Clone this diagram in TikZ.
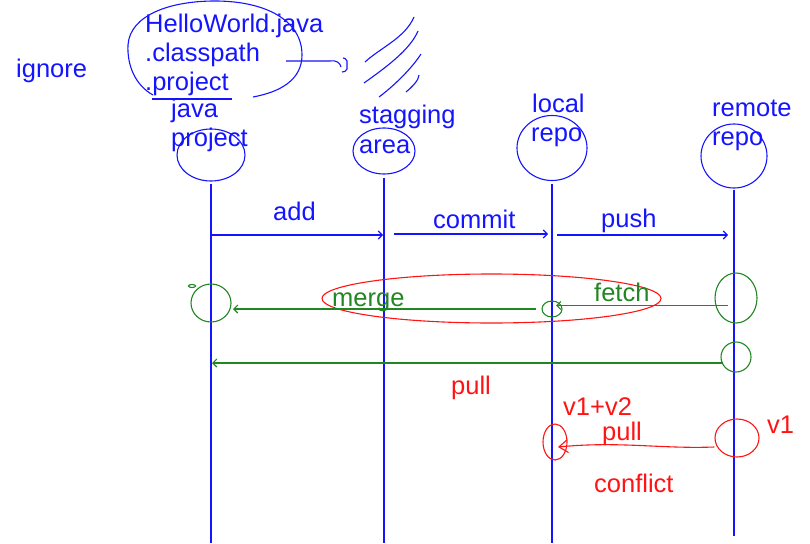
\documentclass[tikz,border=0pt]{standalone}
\usepackage{fontspec}
\setmainfont{Liberation Sans}
\usetikzlibrary{arrows.meta,shapes.geometric}
\definecolor{penblue}{RGB}{20,20,255}
\definecolor{pengreen}{RGB}{34,134,34}
\definecolor{penred}{RGB}{255,20,20}
\tikzset{
  sketchtext/.style={
    anchor=base west,
    inner sep=0pt,
    font=\fontsize{25.5}{30}\selectfont
  },
  headring/.style={
    ellipse,
    draw=penblue,
    line width=1.1pt,
    inner sep=0pt
  },
  greenring/.style={ellipse, draw=pengreen, line width=1.1pt, inner sep=0pt},
  redring/.style={ellipse, draw=penred, line width=1.1pt, inner sep=0pt},
  lifeline/.style={draw=penblue, line width=1.1pt},
  sketcharrow/.style={
    -{Straight Barb[length=4pt,width=8pt]},
    line width=1.1pt
  }
}

\begin{document}
\begin{tikzpicture}[x=1pt,y=-1pt]
\useasboundingbox (0,0) rectangle (810,543);

% labels of the four places
\node[sketchtext, text=penblue] (ignore) at (16,77) {ignore};
\node[sketchtext, text=penblue] (hello) at (145,33) {HelloWorld.java};
\node[sketchtext, text=penblue] (classpath) at (145,62) {.classpath};
\node[sketchtext, text=penblue] (dotproject) at (145,90) {.project};
\node[sketchtext, text=penblue] (javaword) at (171,117) {java};
\node[sketchtext, text=penblue] (projectword) at (171,146) {project};
\node[sketchtext, text=penblue] (stagword) at (359,123) {stagging};
\node[sketchtext, text=penblue] (areaword) at (359,153) {area};
\node[sketchtext, text=penblue] (localword) at (532,112) {local};
\node[sketchtext, text=penblue] (localrepoword) at (531,141) {repo};
\node[sketchtext, text=penblue] (remoteword) at (712,116) {remote};
\node[sketchtext, text=penblue] (remoterepoword) at (712,145) {repo};

\node[headring, minimum width=68pt, minimum height=52pt] (javahead) at (211,155) {};
\node[headring, minimum width=62pt, minimum height=46pt] (staghead) at (384,151) {};
\node[headring, minimum width=70pt, minimum height=65pt] (localhead) at (552,148) {};
\node[headring, minimum width=66pt, minimum height=64pt] (remotehead) at (734,156) {};

\coordinate (javaend) at (211,543);
\coordinate (stagend) at (384,543);
\coordinate (localend) at (552,543);
\coordinate (remoteend) at (734,536);

\draw[lifeline] ([yshift=-2pt]javahead.south) -- (javaend);
\draw[lifeline] ([yshift=-3pt]staghead.south) -- (stagend);
\draw[lifeline] ([yshift=-3pt]localhead.south) -- (localend);
\draw[lifeline] ([yshift=-1pt]remotehead.south) -- (remoteend);

% ignore scribbles
\draw[penblue, line width=1.1pt] (153,95) .. controls (135,85) and (127,65) .. (128,45)
  .. controls (130,15) and (170,1) .. (215,1) .. controls (265,1) and (302,20) .. (302,55)
  .. controls (302,80) and (280,92) .. (253,97);
\draw[penblue, line width=1.1pt] (152,99) -- (232,99);
\draw[penblue, line width=1.1pt] (286,61) -- (330,61) .. controls (337,60) and (340,63) .. (341,67);
\draw[penblue, line width=1.1pt, rounded corners=2pt] (343,58) -- (347,59) -- (347,71) -- (342,72);
\draw[penblue, line width=1.1pt] (365,62) .. controls (380,48) and (405,38) .. (414,17);
\draw[penblue, line width=1.1pt] (364,83) .. controls (385,68) and (410,50) .. (418,31);
\draw[penblue, line width=1.1pt] (379,97) .. controls (395,85) and (412,68) .. (421,54);
\draw[penblue, line width=1.1pt] (406,92) .. controls (412,87) and (419,80) .. (419,75);

% add, commit, push
\coordinate (addfrom) at (212,235);
\coordinate (addto) at (383,235);
\coordinate (commitfrom) at (394,234);
\coordinate (committo) at (548,234);
\coordinate (pushfrom) at (557,235);
\coordinate (pushto) at (728,235);
\draw[sketcharrow, penblue] (addfrom) -- (addto);
\draw[sketcharrow, penblue] (commitfrom) -- (committo);
\draw[sketcharrow, penblue] (pushfrom) -- (pushto);
\node[sketchtext, text=penblue] (addword) at (273,220) {add};
\node[sketchtext, text=penblue] (commitword) at (433,228) {commit};
\node[sketchtext, text=penblue] (pushword) at (601,227) {push};

% fetch + merge
\node[redring, minimum width=339pt, minimum height=49pt] (mergeloop) at (491.5,298.5) {};
\node[greenring, minimum width=40pt, minimum height=38pt] (mergering) at (211,303) {};
\node[greenring, minimum width=7pt, minimum height=3pt] (tickmark) at (192,286) {};
\node[greenring, minimum width=20pt, minimum height=16pt] (fetchring) at (552,309) {};
\node[greenring, minimum width=42pt, minimum height=50pt] (originring) at (736,298) {};
\node[greenring, minimum width=30pt, minimum height=30pt] (pullring) at (736,357) {};
\coordinate (mergefrom) at (536,309);
\coordinate (mergeto) at (233,309);
\coordinate (fetchfrom) at (728,305.5);
\coordinate (fetchto) at (556,305.5);
\coordinate (pullfrom) at (723,363);
\coordinate (pullto) at (212,363);
\draw[sketcharrow, pengreen] (mergefrom) -- (mergeto);
\draw[sketcharrow, pengreen] (fetchfrom) -- (fetchto);
\draw[sketcharrow, pengreen] (pullfrom) -- (pullto);
\node[sketchtext, text=pengreen] (mergeword) at (332,306) {merge};
\node[sketchtext, text=pengreen] (fetchword) at (594,301) {fetch};
\node[sketchtext, text=penred] (pullword) at (451,394) {pull};

% conflict
\node[redring, minimum width=24pt, minimum height=36pt] (conflictring) at (555,442) {};
\node[redring, minimum width=44pt, minimum height=38pt] (versionring) at (737,438) {};
\coordinate (conflictto) at (558,447);
\draw[penred, line width=1.1pt, -{Straight Barb[length=9pt,width=13pt]}] (versionring.west) ++(0,9)
  .. controls (660,449) and (620,441) .. (conflictto);
\node[sketchtext, text=penred] (sumword) at (563,415) {v1+v2};
\node[sketchtext, text=penred] (repullword) at (602,440) {pull};
\node[sketchtext, text=penred] (versionword) at (767,433) {v1};
\node[sketchtext, text=penred] (conflictword) at (594,492) {conflict};
\end{tikzpicture}
\end{document}
